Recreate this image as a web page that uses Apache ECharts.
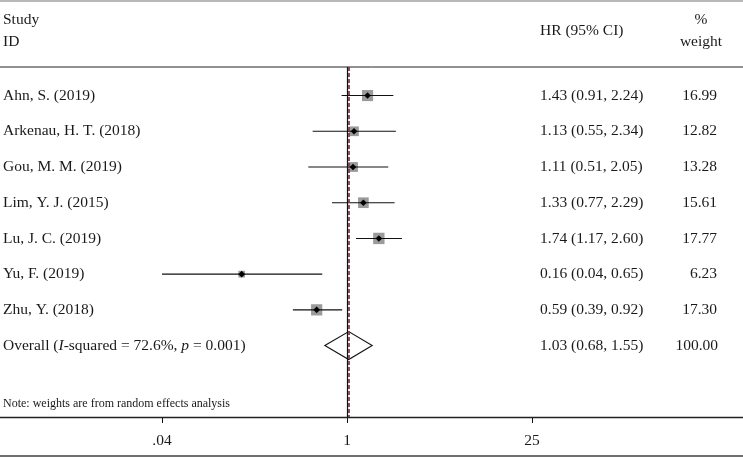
<!DOCTYPE html>
<html><head><meta charset="utf-8">
<script src="https://cdn.jsdelivr.net/npm/echarts@6/dist/echarts.min.js"></script>
<style>html,body{margin:0;padding:0;background:#fff}#c{width:743px;height:458px}</style>
</head><body><div id="c"></div>
<script>
const studies = ['Ahn, S. (2019)', 'Arkenau, H. T. (2018)', 'Gou, M. M. (2019)', 'Lim, Y. J. (2015)', 'Lu, J. C. (2019)', 'Yu, F. (2019)', 'Zhu, Y. (2018)'];
const hr      = [1.43, 1.13, 1.11, 1.33, 1.74, 0.16, 0.59];
const ciLow   = [0.91, 0.55, 0.51, 0.77, 1.17, 0.04, 0.39];
const ciHigh  = [2.24, 2.34, 2.05, 2.29, 2.60, 0.65, 0.92];
const weights = [16.99, 12.82, 13.28, 15.61, 17.77, 6.23, 17.30];
const overall = [1.03, 0.68, 1.55, 100.00]; // HR, low, high, weight
const iSquared = '72.6%';
const pValue = '0.001';
const xTicks = [0.04, 1, 25];
const xTickLabels = ['.04', '1', '25'];

const FONT = "'Liberation Serif', 'DejaVu Serif', serif";
const FS = 15.5;
const TXT = '#1a1a1a';

const rows = studies.map((s, i) => [hr[i], i, ciLow[i], ciHigh[i], weights[i]]);
const f2 = v => v.toFixed(2);

function renderStudy(params, api) {
  const x = api.value(0), row = api.value(1), l = api.value(2), h = api.value(3), w = api.value(4);
  const pc = api.coord([x, row]), pl = api.coord([l, row]), ph = api.coord([h, row]);
  const side = 2.7 * Math.sqrt(w);
  const y = pc[1];
  const font = FS + 'px ' + FONT;
  return { type: 'group', children: [
    { type: 'rect', shape: { x: pc[0] - side / 2, y: y - side / 2, width: side, height: side }, style: { fill: '#9b9b9b' } },
    { type: 'line', shape: { x1: pl[0], y1: y, x2: ph[0], y2: y }, style: { stroke: '#111', lineWidth: 1.1 } },
    { type: 'polygon', shape: { points: [[pc[0] - 3.3, y], [pc[0], y - 3.3], [pc[0] + 3.3, y], [pc[0], y + 3.3]] }, style: { fill: '#000' } },
    { type: 'text', x: 3, y: y, style: { text: studies[params.dataIndex], font: font, fill: TXT, verticalAlign: 'middle' } },
    { type: 'text', x: 540, y: y, style: { text: f2(x) + ' (' + f2(l) + ', ' + f2(h) + ')', font: font, fill: TXT, verticalAlign: 'middle' } },
    { type: 'text', x: 717, y: y, style: { text: f2(w), font: font, fill: TXT, align: 'right', verticalAlign: 'middle' } }
  ]};
}

function renderOverall(params, api) {
  const x = api.value(0), row = api.value(1), l = api.value(2), h = api.value(3), w = api.value(4);
  const pc = api.coord([x, row]), pl = api.coord([l, row]), ph = api.coord([h, row]);
  const y = pc[1], hh = 14;
  const font = FS + 'px ' + FONT;
  return { type: 'group', children: [
    { type: 'polygon', shape: { points: [[pl[0], y], [pc[0], y - hh], [ph[0], y], [pc[0], y + hh]] }, style: { fill: '#fff', stroke: '#111', lineWidth: 1.1 } },
    { type: 'text', x: 3, y: y, style: {
      text: 'Overall ({i|I}-squared = ' + iSquared + ', {i|p} = ' + pValue + ')',
      font: font, fill: TXT, verticalAlign: 'middle',
      rich: { i: { fontStyle: 'italic', fontFamily: FONT, fontSize: FS, fill: TXT } }
    } },
    { type: 'text', x: 540, y: y, style: { text: f2(x) + ' (' + f2(l) + ', ' + f2(h) + ')', font: font, fill: TXT, verticalAlign: 'middle' } },
    { type: 'text', x: 718, y: y, style: { text: f2(w), font: font, fill: TXT, align: 'right', verticalAlign: 'middle' } }
  ]};
}

const chart = echarts.init(document.getElementById('c'), null, { renderer: 'canvas' });
const hline = (y, color, width) => ({ type: 'line', shape: { x1: 0, y1: y, x2: 743, y2: y }, style: { stroke: color, lineWidth: width }, z: 1 });
const htext = (x, y, text, align, size) => ({ type: 'text', x: x, y: y, style: { text: text, font: (size || FS) + 'px ' + FONT, fill: TXT, align: align || 'left', verticalAlign: 'middle' }, z: 5 });

chart.setOption({
  animation: false,
  grid: { left: 162, width: 370, top: 67, height: 350, containLabel: false },
  xAxis: {
    type: 'log', logBase: 25, min: 0.04, max: 25, position: 'bottom',
    axisLine: { show: false, onZero: false },
    axisTick: { show: true, length: 6, lineStyle: { color: '#111', width: 1 } },
    axisLabel: {
      fontFamily: FONT, fontSize: FS, color: TXT, margin: 16,
      formatter: v => { const i = xTicks.findIndex(t => Math.abs(t - v) / t < 1e-6); return i >= 0 ? xTickLabels[i] : ''; }
    },
    splitLine: { show: false }, minorTick: { show: false }
  },
  yAxis: { type: 'value', inverse: true, min: -0.8, max: 9, show: false },
  series: [
    { type: 'custom', renderItem: renderStudy, data: rows, clip: false, z: 3,
      markLine: { silent: true, symbol: 'none', label: { show: false }, animation: false,
        lineStyle: { color: '#111', type: 'solid', width: 1.2 }, data: [{ xAxis: 1 }] } },
    { type: 'custom', renderItem: renderOverall, data: [[overall[0], studies.length, overall[1], overall[2], overall[3]]], clip: false, z: 2,
      markLine: { silent: true, symbol: 'none', label: { show: false }, animation: false,
        lineStyle: { color: '#7b3f4a', type: [4, 2], width: 1.8 }, data: [{ xAxis: overall[0] }] } }
  ],
  graphic: [
    hline(1, '#a0a0a0', 1.5),
    hline(67, '#222', 1),
    hline(417.5, '#222', 1.6),
    hline(456, '#707070', 2),
    htext(3, 20, 'Study'),
    htext(3, 42, 'ID'),
    htext(540, 31, 'HR (95% CI)'),
    htext(701, 20, '%', 'center'),
    htext(701, 42, 'weight', 'center'),
    htext(3, 404, 'Note: weights are from random effects analysis', 'left', 12)
  ]
});
</script></body></html>
